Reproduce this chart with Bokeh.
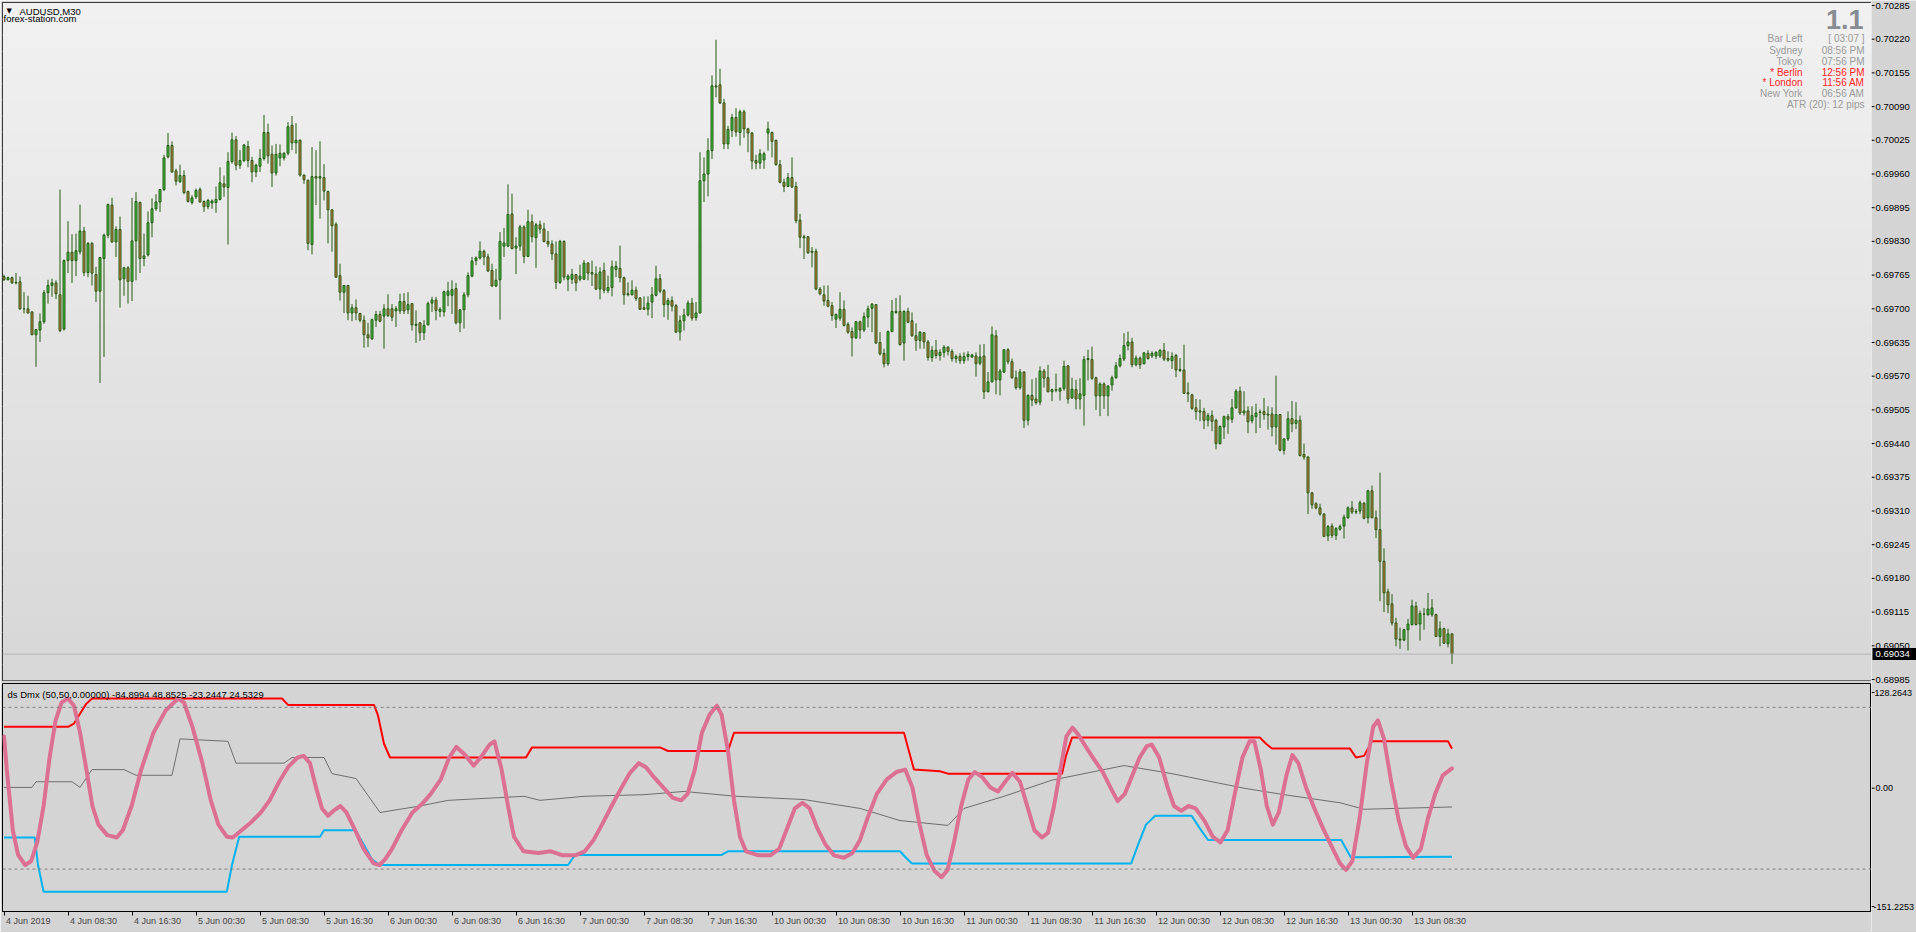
from bokeh.plotting import figure
from bokeh.layouts import column, row
from bokeh.models import (Range1d, LinearAxis, FixedTicker, Label, Span, BoxAnnotation,
                          ColumnDataSource)
from bokeh.core.properties import value
from bokeh.embed import file_html
from bokeh.resources import INLINE

# ---------------- DATA (AUDUSD M30, prices in 1e-5 units) ----------------
OPEN = [69762,69756,69760,69750,69752,69700,69700,69694,69650,69659,
69675,69731,69745,69750,69727,69661,69793,69809,69793,69810,
69850,69770,69826,69766,69734,69797,69842,69900,69829,69853,
69758,69779,69753,69831,69905,69797,69804,69866,69893,69906,
69930,69993,70015,69966,69945,69957,69926,69905,69916,69930,
69907,69897,69904,69905,69911,69941,69934,69984,70026,69977,
69986,70013,69986,69964,69975,69990,70040,69998,69962,69991,
69991,70000,70054,70020,70025,69958,69948,69824,69955,69952,
69953,69926,69891,69863,69764,69732,69745,69692,69702,69691,
69678,69650,69642,69678,69689,69686,69700,69700,69696,69696,
69714,69698,69710,69670,69673,69654,69669,69711,69717,69695,
69694,69726,69726,69739,69673,69698,69727,69763,69793,69798,
69811,69800,69774,69744,69756,69821,69821,69883,69817,69821,
69858,69801,69868,69837,69862,69854,69830,69825,69806,69751,
69830,69757,69757,69766,69757,69757,69788,69770,69767,69738,
69774,69735,69741,69776,69778,69760,69729,69727,69736,69721,
69702,69699,69713,69726,69758,69735,69708,69716,69706,69655,
69677,69688,69711,69683,69692,69947,69960,70005,70130,70132,
70097,70018,70044,70069,70040,70080,70047,70039,69986,69981,
69987,70039,70040,70025,69978,69944,69936,69953,69936,69871,
69839,69839,69811,69811,69738,69727,69716,69706,69680,69682,
69699,69670,69656,69644,69675,69659,69684,69701,69708,69635,
69614,69594,69656,69695,69695,69634,69695,69677,69648,69639,
69654,69636,69606,69620,69610,69616,69626,69618,69604,69608,
69600,69608,69607,69609,69595,69609,69540,69559,69648,69563,
69578,69621,69598,69567,69548,69578,69485,69533,69526,69520,
69580,69567,69540,69544,69541,69546,69590,69528,69544,69526,
69533,69602,69602,69567,69532,69555,69532,69553,69567,69590,
69603,69629,69636,69592,69605,69594,69614,69609,69609,69609,
69620,69604,69600,69610,69583,69582,69538,69534,69509,69503,
69502,69485,69494,69485,69440,69472,69492,69487,69509,69541,
69499,69503,69484,69492,69500,69502,69497,69497,69472,69496,
69427,69449,69488,69479,69485,69419,69414,69345,69324,69316,
69304,69262,69281,69263,69275,69281,69297,69316,69309,69310,
69325,69297,69349,69297,69274,69213,69154,69131,69094,69063,
69061,69081,69091,69126,69092,69111,69110,69110,69110,69068,
69083,69054,69073]

HIGH = [69766,69762,69762,69769,69762,69732,69725,69695,69660,69691,
69736,69756,69758,69755,69930,69795,69869,69844,69845,69901,
69858,69829,69829,69781,69800,69845,69903,69914,69859,69878,
69781,69782,69914,69925,69907,69845,69888,69913,69921,69931,
69997,70039,70023,69970,69978,69967,69928,69919,69932,69934,
69909,69912,69911,69936,69973,69957,70002,70040,70033,70006,
70018,70024,69993,69980,70008,70074,70057,70015,70018,70017,
70002,70060,70072,70058,70027,69959,69949,70012,70006,70023,
69979,69928,69892,69867,69787,69745,69745,69709,69718,69692,
69687,69673,69681,69696,69696,69709,69728,69709,69705,69729,
69730,69732,69711,69697,69674,69678,69714,69723,69723,69703,
69735,69752,69755,69750,69699,69732,69770,69800,69801,69830,
69814,69806,69787,69777,69848,69856,69940,69922,69838,69862,
69861,69891,69882,69866,69870,69866,69850,69832,69830,69833,
69832,69767,69777,69767,69785,69794,69790,69793,69782,69780,
69789,69764,69793,69792,69822,69762,69751,69755,69743,69722,
69724,69724,69742,69783,69767,69738,69721,69724,69709,69687,
69700,69716,69721,69713,70002,69992,70029,70150,70219,70163,
70105,70053,70076,70087,70084,70084,70049,70041,69997,70008,
70003,70061,70042,70026,69987,69951,69962,69992,69945,69883,
69843,69839,69819,69816,69742,69745,69745,69713,69691,69732,
69716,69674,69664,69676,69677,69693,69706,69711,69709,69655,
69623,69658,69717,69721,69726,69697,69702,69693,69672,69657,
69655,69640,69628,69640,69622,69630,69628,69622,69612,69614,
69616,69618,69613,69616,69631,69632,69578,69666,69659,69584,
69622,69624,69604,69581,69584,69580,69535,69564,69567,69589,
69584,69592,69546,69575,69549,69600,69591,69567,69563,69566,
69609,69621,69627,69569,69558,69558,69553,69571,69597,69612,
69653,69656,69644,69610,69608,69616,69620,69618,69618,69622,
69634,69618,69616,69613,69605,69631,69558,69536,69526,69525,
69509,69499,69504,69488,69475,69494,69497,69526,69545,69550,
69541,69512,69512,69517,69506,69528,69512,69510,69571,69497,
69450,69502,69522,69520,69494,69440,69416,69346,69327,69324,
69306,69283,69286,69279,69284,69303,69319,69329,69314,69330,
69327,69351,69359,69311,69384,69238,69160,69150,69104,69085,
69083,69102,69139,69135,69118,69123,69152,69140,69112,69097,
69085,69083,69074]

LOW = [69754,69755,69748,69747,69698,69691,69691,69649,69588,69636,
69671,69710,69723,69719,69655,69658,69769,69750,69763,69805,
69763,69761,69745,69713,69557,69607,69836,69827,69800,69702,
69725,69710,69715,69755,69769,69782,69801,69838,69889,69887,
69927,69990,69962,69938,69943,69921,69905,69901,69912,69905,
69887,69892,69893,69885,69909,69916,69824,69980,69967,69970,
69983,69973,69944,69954,69964,69986,69980,69935,69957,69975,
69986,69996,70006,69999,69955,69941,69813,69805,69900,69874,
69909,69826,69810,69760,69716,69692,69678,69676,69678,69674,
69625,69626,69640,69665,69674,69623,69684,69676,69665,69690,
69690,69690,69658,69634,69638,69640,69668,69694,69678,69684,
69685,69705,69690,69670,69655,69662,69722,69761,69784,69795,
69784,69771,69742,69742,69679,69800,69819,69815,69767,69812,
69788,69800,69828,69779,69845,69828,69819,69794,69738,69748,
69755,69734,69748,69734,69753,69756,69755,69744,69736,69718,
69730,69730,69724,69761,69751,69708,69724,69726,69715,69698,
69698,69687,69682,69724,69730,69684,69679,69695,69653,69639,
69658,69685,69677,69677,69691,69906,69917,69989,70108,70095,
70008,70008,70031,70032,70015,70030,70002,69969,69969,69970,
69970,70005,69992,69976,69942,69925,69935,69933,69865,69817,
69796,69806,69780,69736,69726,69706,69703,69677,69663,69677,
69666,69652,69608,69642,69642,69655,69664,69655,69632,69610,
69587,69590,69655,69690,69629,69600,69672,69646,69619,69623,
69623,69600,69598,69604,69600,69606,69610,69598,69596,69594,
69594,69600,69605,69569,69591,69526,69539,69558,69535,69533,
69576,69593,69565,69544,69544,69470,69475,69512,69515,69514,
69548,69539,69522,69539,69523,69542,69517,69526,69506,69506,
69475,69562,69563,69505,69493,69507,69493,69542,69565,69587,
69599,69620,69587,69589,69584,69593,69602,69605,69603,69605,
69599,69598,69584,69568,69578,69536,69520,69505,69486,69483,
69468,69473,69464,69429,69438,69449,69459,69480,69507,69495,
69494,69460,69479,69460,69470,69486,69467,69454,69438,69425,
69419,69445,69462,69468,69415,69409,69304,69314,69313,69301,
69260,69252,69258,69254,69272,69257,69295,69304,69304,69304,
69294,69286,69296,69258,69136,69115,69113,69089,69049,69044,
69059,69041,69089,69089,69060,69081,69108,69106,69067,69049,
69054,69047,69015]

CLOSE = [69756,69760,69750,69751,69700,69700,69692,69650,69660,69675,
69731,69745,69750,69729,69658,69793,69809,69793,69812,69850,
69770,69826,69769,69734,69799,69842,69901,69829,69853,69756,
69779,69753,69831,69907,69797,69802,69866,69893,69906,69930,
69991,70015,69964,69946,69957,69924,69907,69914,69928,69906,
69897,69909,69908,69911,69943,69935,69984,70026,69977,69986,
70016,69986,69964,69977,69990,70040,69995,69962,69998,70000,
70000,70051,70020,70025,69958,69949,69826,69955,69952,69955,
69927,69891,69860,69761,69732,69745,69692,69702,69692,69678,
69650,69644,69679,69689,69676,69700,69687,69684,69700,69714,
69696,69708,69669,69668,69654,69668,69710,69717,69697,69699,
69733,69734,69737,69673,69698,69727,69764,69792,69798,69811,
69800,69773,69744,69755,69830,69827,69882,69816,69821,69858,
69801,69868,69839,69862,69854,69830,69825,69806,69751,69830,
69761,69763,69766,69750,69763,69788,69769,69767,69738,69771,
69736,69741,69781,69782,69760,69727,69727,69736,69720,69699,
69699,69711,69727,69758,69734,69708,69716,69705,69655,69677,
69688,69711,69682,69692,69947,69960,70005,70130,70128,70097,
70018,70046,70069,70041,70080,70047,70039,69985,69981,69999,
69999,70047,70023,69978,69944,69936,69953,69935,69870,69838,
69837,69808,69809,69738,69729,69715,69705,69687,69689,69699,
69668,69655,69644,69675,69659,69685,69700,69709,69634,69613,
69594,69656,69695,69693,69631,69695,69674,69648,69639,69655,
69636,69606,69620,69610,69616,69626,69618,69604,69608,69600,
69608,69612,69611,69594,69607,69540,69559,69650,69563,69580,
69621,69598,69567,69548,69578,69485,69533,69524,69519,69580,
69566,69540,69544,69543,69546,69589,69526,69545,69526,69536,
69602,69604,69566,69532,69555,69532,69551,69567,69590,69604,
69629,69636,69592,69605,69592,69615,69604,69614,69616,69620,
69603,69601,69608,69582,69581,69537,69536,69508,69502,69501,
69485,69494,69483,69440,69473,69492,69487,69509,69541,69499,
69503,69482,69494,69499,69501,69496,69495,69472,69496,69427,
69449,69488,69478,69485,69417,69414,69345,69322,69316,69304,
69261,69280,69263,69276,69280,69298,69316,69308,69308,69326,
69296,69349,69297,69274,69213,69152,69129,69094,69063,69061,
69081,69092,69127,69091,69112,69111,69121,69123,69068,69083,
69055,69073,69034]

PRICE_TICKS = [0.70285, 0.70220, 0.70155, 0.70090, 0.70025, 0.69960, 0.69895,
               0.69830, 0.69765, 0.69700, 0.69635, 0.69570, 0.69505, 0.69440,
               0.69375, 0.69310, 0.69245, 0.69180, 0.69115, 0.69050, 0.68985]
LAST_PRICE = 0.69034

TIME_LABELS = ["4 Jun 2019", "4 Jun 08:30", "4 Jun 16:30", "5 Jun 00:30", "5 Jun 08:30",
               "5 Jun 16:30", "6 Jun 00:30", "6 Jun 08:30", "6 Jun 16:30", "7 Jun 00:30",
               "7 Jun 08:30", "7 Jun 16:30", "10 Jun 00:30", "10 Jun 08:30", "10 Jun 16:30",
               "11 Jun 00:30", "11 Jun 08:30", "11 Jun 16:30", "12 Jun 00:30", "12 Jun 08:30",
               "12 Jun 16:30", "13 Jun 00:30", "13 Jun 08:30"]
TIME_LABEL_BARS = [0, 16, 32, 48, 64, 80, 96, 112, 128, 144, 160, 176, 192, 208, 224,
                   240, 256, 272, 288, 304, 320, 336, 352]

# indicator "ds Dmx" lines: (bar index, value)
PINK = [(0,64),(0.7,23),(2.2,-52),(3.5,-82),(5.3,-95),(6.8,-90),(8.3,-67),(9.9,-22),(11.4,38),(12.9,84),
(14.4,106),(16.0,111),(17.5,102),(19.0,69),(20.6,23),(22.1,-22),(23.6,-45),(25.8,-58),(28.2,-61),(29.7,-52),
(31.9,-22),(34.3,23),(37.4,69),(40.4,96),(43.5,111),(45.0,106),(47.1,76),(49.6,31),(51.7,-15),(53.6,-45),
(55.7,-60),(57.2,-61),(59.4,-52),(61.8,-42),(64.2,-30),(66.4,-15),(68.8,8),(71.0,26),(73.4,38),(74.9,40),
(76.5,31),(78.0,1),(79.5,-25),(81.0,-34),(82.6,-27),(84.1,-22),(85.6,-30),(87.8,-52),(89.9,-75),(92.4,-93),
(93.9,-95),(95.4,-87),(97.0,-75),(99.4,-52),(102.1,-30),(104.6,-19),(106.7,-7),(109.2,11),(111.3,38),(113.1,51),
(115.3,41),(117.4,28),(119.2,38),(121.4,54),(122.6,58),(124.4,23),(126.0,-22),(127.5,-60),(129.9,-78),(133.6,-80),
(136.7,-78),(139.7,-83),(142.8,-83),(145.2,-78),(147.4,-64),(149.5,-45),(151.9,-22),(154.4,1),(156.5,19),(158.7,31),
(160.5,26),(162.6,13),(164.8,1),(167.2,-12),(169.3,-15),(170.9,-7),(172.7,23),(174.5,69),(176.4,91),(178.2,102),
(179.4,91),(181.0,46),(182.5,-15),(184.0,-60),(185.5,-78),(188.6,-83),(191.6,-83),(193.8,-75),(195.6,-52),(197.7,-25),
(199.6,-18),(201.4,-25),(203.2,-48),(205.4,-70),(207.5,-83),(210.0,-86),(212.1,-80),(214.0,-64),(216.1,-34),(218.2,-7),
(220.7,11),(223.1,20),(225.3,23),(227.1,1),(228.9,-45),(230.7,-83),(232.6,-102),(234.4,-110),(235.9,-101),(237.5,-67),
(239.3,-22),(241.1,11),(242.7,20),(244.5,14),(246.6,1),(248.5,-4),(250.3,8),(252.1,19),(254.0,8),(255.8,-22),
(257.6,-52),(259.5,-61),(261.0,-55),(262.5,-22),(264.1,23),(265.6,64),(267.1,75),(268.6,66),(270.5,51),(272.6,35),
(274.7,20),(276.6,1),(278.4,-16),(280.2,-7),(282.1,16),(283.9,38),(285.7,52),(286.9,54),(288.8,38),(290.9,1),
(292.5,-22),(294.3,-28),(296.1,-22),(297.9,-25),(300.1,-40),(302.2,-60),(304.1,-67),(305.9,-52),(307.7,-7),(309.6,38),
(311.4,58),(312.6,58),(314.2,23),(315.7,-22),(317.2,-45),(318.7,-30),(320.6,16),(322.1,41),(323.6,31),(325.5,1),
(327.6,-25),(329.7,-49),(332.2,-75),(334.0,-93),(335.5,-101),(337.1,-90),(338.9,-37),(340.7,31),(342.3,76),(343.5,84),
(345.0,61),(346.8,8),(348.7,-40),(350.5,-72),(352.3,-86),(354.2,-75),(356.0,-37),(357.8,-7),(359.7,16),(362,24.5)]

RED = [(0,76),(16,76),(17.5,80),(19,92),(20.5,104),(22,111),(69.5,111),(71,103),(92.5,103),(93.5,90),
(95,55),(96.5,38),(130.5,38),(132,50.5),(164,50.5),(166,46),(181,46),(182.5,68.6),(225,68.6),(226,50),
(227.5,23),(234,21),(236,18),(264.5,18),(265.5,40),(267,62.6),(314,62.6),(315.5,55),(317,49),(336.5,49),
(338,38),(340,40),(342,58),(361,58),(362,48.85)]

BLUE = [(0,-61),(7.7,-61),(8.5,-95),(9.9,-128),(55.7,-128),(57,-95),(58.8,-60),(79,-60),(80,-52),(87.8,-52),
(90,-70),(92,-88),(93.9,-95),(141,-95),(142.8,-82.5),(179.4,-82.5),(181,-78),(224,-78),(225.5,-86),(227,-93),
(281.8,-93),(283.5,-70),(285.5,-45),(287.8,-34),(296.9,-34),(299,-50),(301,-64),(334.3,-64),(336.7,-85.5),(362,-84.9)]

GRAY = [(0,1),(7,1),(8,8),(17,8),(19,1),(22,23),(30,23),(33,16),(42,16),(44,61),(56,58),(58,31),(70,31),
(72,38),(80,38),(82,18),(88,12),(94,-30),(104,-22),(111,-15),(130,-10),(134,-15),(145,-10),(160,-8),
(170,-4),(183,-10),(200,-14),(214,-25),(224,-40),(236,-46),(240,-25),(250,-10),(262,10),(272,20),(280,28),
(292,18),(300,10),(310,0),(320,-8),(334,-18),(340,-26),(362,-23.2)]

IND_MIN = -151.2253
IND_MAX = 128.2643
IND_LEVELS = [100, -100]
IND_AXIS_TEXT = ["128.2643", "0.00", "-151.2253"]
IND_TITLE = "ds Dmx (50,50,0.00000) -84.8994 48.8525 -23.2447 24.5329"

SYMBOL_TEXT = "AUDUSD,M30"
SITE_TEXT = "forex-station.com"
BIG_TEXT = "1.1"
INFO_LABELS = ["Bar Left", "Sydney", "Tokyo", "* Berlin", "* London", "New York"]
INFO_VALUES = ["[ 03:07 ]", "08:56 PM", "07:56 PM", "12:56 PM", "11:56 AM", "06:56 AM"]
INFO_RED = [False, False, False, True, True, False]
ATR_TEXT = "ATR (20): 12 pips"

# ---------------- LAYOUT / STYLE ----------------
FONT = "Liberation Sans"
BG = "#d4d4d4"
WICK = "#255a10"
BULL = "#3cc43c"
BEAR = "#cf7a3e"

FRAME_W = 1869          # plot frames from x=2 to x=1871
AXIS_W = 45             # right price scale strip
MAIN_TOP = 2
MAIN_H = 678            # main frame y 2..680
IND_TOP = 683
IND_H = 228             # indicator frame y 683..911
TOTAL_H = 932
BAR_PX = 4.0
X0 = -0.375
X1 = X0 + FRAME_W / BAR_PX
PPP = 0.00065 / 33.7          # price per pixel
IPP = (IND_MAX - IND_MIN) / (IND_H - 2)   # indicator units per pixel


def price_at(ypix):
    return 0.70285 - (ypix - 5) * PPP


def ind_at(ypix):
    return IND_MAX + IPP - (ypix - IND_TOP) * IPP


def xdata(xpix):
    return X0 + (xpix - 2) / BAR_PX


PT = price_at(MAIN_TOP)
PB = price_at(MAIN_TOP + MAIN_H)

o = [v / 1e5 for v in OPEN]
h = [v / 1e5 for v in HIGH]
l = [v / 1e5 for v in LOW]
c = [v / 1e5 for v in CLOSE]
n = len(c)
src = ColumnDataSource(dict(
    x=list(range(n)), h=h, l=l,
    top=[max(a, b) for a, b in zip(o, c)],
    bot=[min(a, b) for a, b in zip(o, c)],
    col=[BULL if cc > oo else BEAR for oo, cc in zip(o, c)],
))

# ---------------- main price panel ----------------
p = figure(frame_width=FRAME_W, frame_height=MAIN_H,
           x_range=Range1d(X0, X1), y_range=Range1d(PB, PT),
           output_backend="svg", toolbar_location=None,
           x_axis_location=None, y_axis_location=None,
           min_border_left=2, min_border_top=MAIN_TOP, min_border_bottom=IND_TOP - MAIN_TOP - MAIN_H,
           min_border_right=0,
           background_fill_color="#e4e4e4", border_fill_color=BG,
           outline_line_color="black", outline_line_width=1)
p.grid.visible = False

NB = 42
for k in range(NB):
    t = k / (NB - 1)
    g = int(round(241 - 26 * t))
    top = PT - (PT - PB) * k / NB
    bot = PT - (PT - PB) * (k + 1) / NB - PPP
    p.add_layout(BoxAnnotation(top=top, bottom=bot, fill_color=(g, g, g), fill_alpha=1.0,
                               line_color=None, level="underlay"))

p.add_layout(Span(location=LAST_PRICE, dimension="width", line_color="#b4b4b4", line_width=1))

p.segment(x0="x", y0="l", x1="x", y1="h", line_color=WICK, line_width=1, source=src)
p.vbar(x="x", width=0.5, top="top", bottom="bot", fill_color="col", line_color=WICK,
       line_width=1, source=src)

p.add_layout(Label(x=xdata(6), y=price_at(10), text="\u25BC", text_baseline="middle",
                   text_font="DejaVu Sans", text_font_size="7px", text_color="black"))
p.add_layout(Label(x=xdata(19), y=price_at(10.5), text=SYMBOL_TEXT, text_baseline="middle",
                   text_font=FONT, text_font_size="9.5px", text_color="black"))
p.add_layout(Label(x=xdata(3), y=price_at(18), text=SITE_TEXT, text_baseline="middle",
                   text_font=FONT, text_font_size="9.5px", text_color="black"))

p.add_layout(Label(x=X1 - 8 / BAR_PX, y=price_at(18.5), text=BIG_TEXT, text_align="right",
                   text_baseline="middle", text_font=FONT, text_font_size="27px",
                   text_font_style="bold", text_color="#878c92"))
ROW_Y = [38, 49.5, 60.5, 71.5, 82, 93]
for lab, val, red, yy in zip(INFO_LABELS, INFO_VALUES, INFO_RED, ROW_Y):
    colr = "#ff2424" if red else "#9a9a9a"
    p.add_layout(Label(x=X1 - 69 / BAR_PX, y=price_at(yy), text=lab, text_align="right",
                       text_baseline="middle", text_font=FONT, text_font_size="10px", text_color=colr))
    p.add_layout(Label(x=X1 - 7 / BAR_PX, y=price_at(yy), text=val, text_align="right",
                       text_baseline="middle", text_font=FONT, text_font_size="10px", text_color=colr))
p.add_layout(Label(x=X1 - 7 / BAR_PX, y=price_at(104), text=ATR_TEXT, text_align="right",
                   text_baseline="middle", text_font=FONT, text_font_size="10px", text_color="#9a9a9a"))

# ---------------- indicator panel ----------------
q = figure(frame_width=FRAME_W, frame_height=IND_H,
           x_range=p.x_range, y_range=Range1d(ind_at(IND_TOP + IND_H), ind_at(IND_TOP)),
           output_backend="svg", toolbar_location=None,
           x_axis_location=None, y_axis_location=None,
           min_border_left=2, min_border_top=0, min_border_bottom=TOTAL_H - IND_TOP - IND_H,
           min_border_right=0,
           background_fill_color=BG, border_fill_color=BG,
           outline_line_color="black", outline_line_width=1)
q.grid.visible = False

for lv in IND_LEVELS:
    q.add_layout(Span(location=lv, dimension="width", line_color="#808080",
                      line_width=1, line_dash="3 3"))

q.line([a for a, b in GRAY], [b for a, b in GRAY], line_color="#6e6e6e", line_width=1)
q.line([a for a, b in RED], [b for a, b in RED], line_color="#ff0000", line_width=2)
q.line([a for a, b in BLUE], [b for a, b in BLUE], line_color="#00b2f0", line_width=2)
q.line([a for a, b in PINK], [b for a, b in PINK], line_color="#db7093", line_width=4,
       line_join="round", line_cap="round")

q.add_layout(Label(x=xdata(7), y=ind_at(694), text=IND_TITLE, text_baseline="middle",
                   text_font=FONT, text_font_size="9.5px", text_color="black"))

# time axis: tick marks at the bars, labels starting right of each tick
ax_ticks = LinearAxis(ticker=FixedTicker(ticks=TIME_LABEL_BARS), major_tick_out=4, major_tick_in=0,
                      minor_tick_out=0, minor_tick_in=0, major_label_standoff=0,
                      major_label_text_font_size="0px", axis_line_color="black",
                      major_tick_line_color="black")
ax_ticks.major_label_overrides = {b: "" for b in TIME_LABEL_BARS}

CW = {" ": 0.278, "J": 0.5, "u": 0.556, "n": 0.556, ":": 0.278}
LAB_PX = 9


def text_w(txt):
    return sum(CW.get(ch, 0.556) for ch in txt) * LAB_PX


centers = [b + (2 + text_w(t) / 2) / BAR_PX for b, t in zip(TIME_LABEL_BARS, TIME_LABELS)]
ax_labels = LinearAxis(ticker=FixedTicker(ticks=centers), major_tick_out=0, major_tick_in=0,
                       minor_tick_out=0, minor_tick_in=0, major_label_standoff=0,
                       major_label_text_font_size="%dpx" % LAB_PX, major_label_text_font=FONT,
                       axis_line_color=None)
ax_labels.major_label_overrides = {cx: t for cx, t in zip(centers, TIME_LABELS)}
q.add_layout(ax_ticks, "below")
q.add_layout(ax_labels, "below")

# ---------------- right-hand scale strip (price scale + indicator scale) ----------------
s = figure(frame_width=AXIS_W, frame_height=TOTAL_H,
           x_range=Range1d(0, AXIS_W), y_range=Range1d(price_at(TOTAL_H), price_at(0)),
           extra_y_ranges={"ind": Range1d(ind_at(TOTAL_H), ind_at(0))},
           output_backend="svg", toolbar_location=None,
           x_axis_location=None, y_axis_location=None, min_border=0,
           background_fill_color=BG, border_fill_color=BG, outline_line_color=None)
s.grid.visible = False
s.segment(x0=0, y0=PRICE_TICKS, x1=3, y1=PRICE_TICKS, line_color="black", line_width=1)
s.text(x=[4] * len(PRICE_TICKS), y=PRICE_TICKS, text=["%.5f" % t for t in PRICE_TICKS],
       text_baseline="middle", text_align="left", text_font=value(FONT),
       text_font_size=value("9.5px"), text_color="black")
s.quad(left=1, right=AXIS_W, bottom=LAST_PRICE - 6 * PPP, top=LAST_PRICE + 6 * PPP,
       fill_color="black", line_color=None)
s.text(x=[4], y=[LAST_PRICE], text=["%.5f" % LAST_PRICE], text_baseline="middle",
       text_align="left", text_font=value(FONT), text_font_size=value("9.5px"), text_color="white")

IND_TICK_POS = [ind_at(692), 0.0, ind_at(906)]
s.segment(x0=0, y0=IND_TICK_POS, x1=3, y1=IND_TICK_POS, line_color="black", line_width=1,
          y_range_name="ind")
s.text(x=[3, 4, 2], y=IND_TICK_POS, text=IND_AXIS_TEXT, text_baseline="middle", text_align="left",
       text_font=value(FONT), text_font_size=value("9px"), text_color="black", y_range_name="ind")

layout = row(column(p, q, spacing=0), s, spacing=0)
open("out.html", "w").write(file_html(layout, INLINE))
